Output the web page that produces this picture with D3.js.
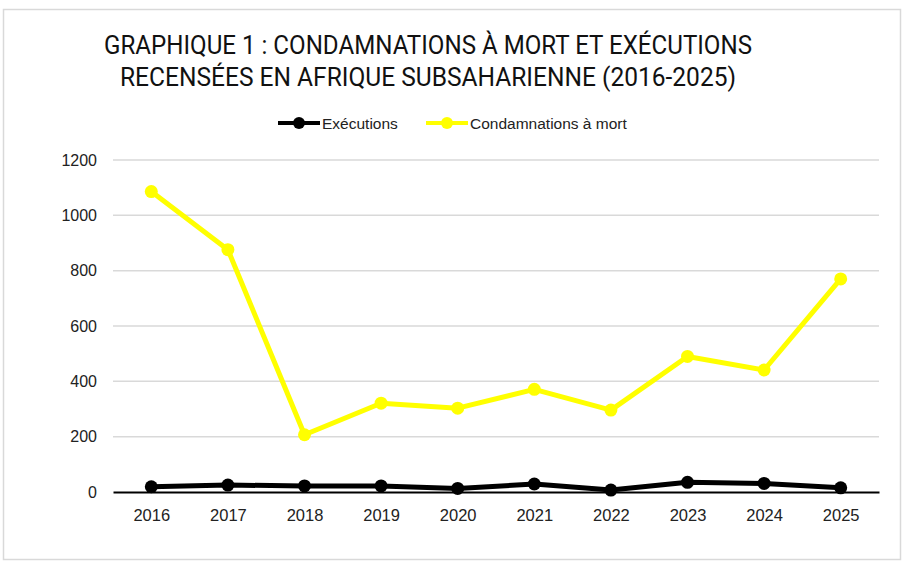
<!DOCTYPE html>
<html>
<head>
<meta charset="utf-8">
<script src="https://cdn.jsdelivr.net/npm/d3@7"></script>
<style>
  html, body { margin: 0; padding: 0; background: #fff; }
  svg { display: block; }
</style>
</head>
<body>
<div id="chart-container"></div>
<script>
const years = ["2016", "2017", "2018", "2019", "2020", "2021", "2022", "2023", "2024", "2025"];
const executions = [19, 25, 22, 22, 13, 29, 7, 35, 31, 15];
const condamnations = [1086, 876, 207, 321, 303, 371, 296, 490, 441, 770];
const yTicks = [0, 200, 400, 600, 800, 1000, 1200];
const titleLines = [
  "GRAPHIQUE 1 : CONDAMNATIONS À MORT ET EXÉCUTIONS",
  "RECENSÉES EN AFRIQUE SUBSAHARIENNE (2016-2025)"
];
const seriesNames = ["Exécutions", "Condamnations à mort"];

function makeChart() {
  const W = 907, H = 572;
  const margin = { top: 160, right: 28, bottom: 80, left: 113 };
  const width = 879 - margin.left;
  const height = 492 - margin.top;

  const svg = d3.select("#chart-container")
    .append("svg")
    .attr("width", W)
    .attr("height", H);

  // frame
  svg.append("rect")
    .attr("x", 3.5).attr("y", 9.5)
    .attr("width", 897).attr("height", 550)
    .attr("fill", "#fff")
    .attr("stroke", "#d9d9d9")
    .attr("stroke-width", 1.5);

  // title
  const titleFont = "'Liberation Sans Narrow', 'Roboto', 'Liberation Sans', sans-serif";
  svg.append("text")
    .attr("x", 104).attr("y", 54)
    .attr("textLength", 648).attr("lengthAdjust", "spacingAndGlyphs")
    .style("font-family", titleFont).style("font-size", "25px").attr("fill", "#111")
    .text(titleLines[0]);
  svg.append("text")
    .attr("x", 120).attr("y", 86)
    .attr("textLength", 616).attr("lengthAdjust", "spacingAndGlyphs")
    .style("font-family", titleFont).style("font-size", "25px").attr("fill", "#111")
    .text(titleLines[1]);

  const g = svg.append("g")
    .attr("transform", "translate(" + margin.left + "," + margin.top + ")");

  const x = d3.scalePoint()
    .domain(years)
    .range([0, width])
    .padding(0.5);

  const y = d3.scaleLinear()
    .domain([0, 1200])
    .range([height, 0]);

  // gridlines
  g.append("g")
    .selectAll("line")
    .data(yTicks.filter(d => d > 0))
    .enter()
    .append("line")
    .attr("x1", 0).attr("x2", width)
    .attr("y1", d => y(d)).attr("y2", d => y(d))
    .attr("stroke", "#d9d9d9")
    .attr("stroke-width", 1.5);

  // y axis labels
  const yAxis = g.append("g")
    .call(d3.axisLeft(y).tickValues(yTicks).tickFormat(d3.format("d")).tickSize(0).tickPadding(16));
  yAxis.select(".domain").remove();
  yAxis.selectAll("text")
    .style("font-family", "'Liberation Sans', Arial, sans-serif")
    .style("font-size", "16px")
    .attr("fill", "#222");

  // x axis
  const xAxis = g.append("g")
    .attr("transform", "translate(0," + height + ")")
    .call(d3.axisBottom(x).tickSize(0).tickPadding(17));
  xAxis.select(".domain")
    .attr("stroke", "#000")
    .attr("stroke-width", 2);
  xAxis.selectAll("text")
    .style("font-family", "'Liberation Sans', Arial, sans-serif")
    .style("font-size", "16.5px")
    .attr("fill", "#222");

  const series = [
    { name: seriesNames[1], values: condamnations, color: "#ffff00" },
    { name: seriesNames[0], values: executions, color: "#000000" }
  ];

  const line = d3.line()
    .x((d, i) => x(years[i]))
    .y(d => y(d));

  series.forEach(s => {
    g.append("path")
      .datum(s.values)
      .attr("fill", "none")
      .attr("stroke", s.color)
      .attr("stroke-width", 5)
      .attr("stroke-linejoin", "round")
      .attr("d", line);
    g.selectAll(null)
      .data(s.values)
      .enter()
      .append("circle")
      .attr("cx", (d, i) => x(years[i]))
      .attr("cy", d => y(d))
      .attr("r", 6.5)
      .attr("fill", s.color);
  });

  // legend
  const legendItems = [
    { name: seriesNames[0], color: "#000000", x: 278, textX: 322 },
    { name: seriesNames[1], color: "#ffff00", x: 426, textX: 470 }
  ];
  const legend = svg.append("g");
  legendItems.forEach(it => {
    legend.append("line")
      .attr("x1", it.x).attr("x2", it.x + 42)
      .attr("y1", 123).attr("y2", 123)
      .attr("stroke", it.color)
      .attr("stroke-width", 4);
    legend.append("circle")
      .attr("cx", it.x + 21).attr("cy", 123)
      .attr("r", 6)
      .attr("fill", it.color);
    legend.append("text")
      .attr("x", it.textX).attr("y", 128.5)
      .style("font-family", "'Liberation Sans', Arial, sans-serif")
      .style("font-size", "15.5px")
      .attr("fill", "#222")
      .text(it.name);
  });
}
makeChart();
</script>
</body>
</html>
